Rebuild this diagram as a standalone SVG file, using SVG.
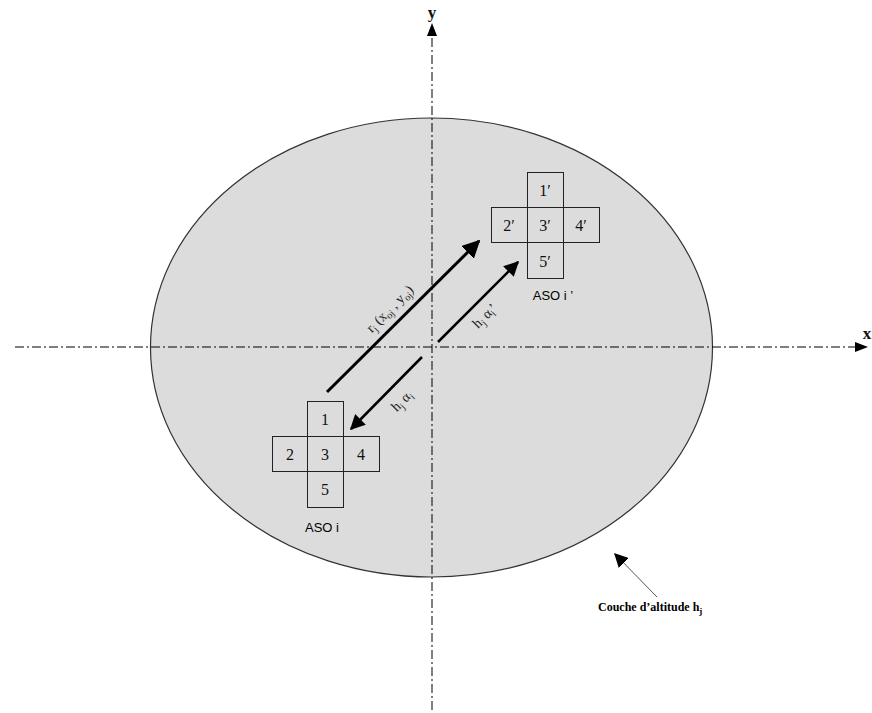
<svg xmlns="http://www.w3.org/2000/svg" width="872" height="713" viewBox="0 0 872 713">
<style>
.axis{stroke:#000;stroke-width:1;fill:none;stroke-dasharray:9,3,2,3}
.box{fill:none;stroke:#222;stroke-width:1}
.num{font-family:"Liberation Serif",serif;font-size:16px;fill:#111;text-anchor:middle}
.aso{font-family:"Liberation Sans",Arial,sans-serif;font-size:13px;fill:#000;text-anchor:middle}
.lbl{font-family:"Liberation Serif",serif;font-size:14px;fill:#222}
.thick{stroke:#000;stroke-width:3;fill:none}
</style>
<defs>
<marker id="ah" viewBox="0 0 10 10" refX="9" refY="5" markerWidth="6" markerHeight="6" markerUnits="strokeWidth" orient="auto">
<path d="M0,0 L10,5 L0,10 z" fill="#000"/>
</marker>
<marker id="ahs" viewBox="0 0 10 10" refX="9" refY="5" markerWidth="14" markerHeight="14" markerUnits="userSpaceOnUse" orient="auto">
<path d="M0,0 L10,5 L0,10 z" fill="#000"/>
</marker>
</defs>
<rect width="872" height="713" fill="#fff"/>
<g id="layer">
<ellipse cx="431.5" cy="347.5" rx="281" ry="229.5" fill="#dcdcdc" stroke="#333" stroke-width="1.2"/>
</g>
<g id="axes">
<line class="axis" x1="432" y1="38" x2="432" y2="713"/>
<path d="M432,23 L437,36 L427,36 z" fill="#000"/>
<text x="432" y="18" class="num" style="font-weight:bold;font-size:17px">y</text>
<line class="axis" x1="15" y1="347" x2="856" y2="347"/>
<path d="M868,347 L855,342 L855,352 z" fill="#000"/>
<text x="867" y="339" class="num" style="font-weight:bold;font-size:17px">x</text>
</g>
<g id="connectors">
<line class="thick" x1="327" y1="392" x2="479" y2="241" marker-end="url(#ah)"/>
<line x1="438" y1="342" x2="518" y2="262" stroke="#000" stroke-width="2.5" marker-end="url(#ah)"/>
<line x1="422" y1="357" x2="351" y2="429" stroke="#000" stroke-width="2.5" marker-end="url(#ah)"/>
<line x1="657" y1="597" x2="615" y2="554" stroke="#555" stroke-width="1" marker-end="url(#ahs)"/>
<text class="lbl" transform="translate(393,312) rotate(-45)" text-anchor="middle">r<tspan font-size="10" dy="3">j</tspan><tspan dy="-3"> (x</tspan><tspan font-size="10" dy="3">oj</tspan><tspan dy="-3"> , y</tspan><tspan font-size="10" dy="3">oj</tspan><tspan dy="-3">)</tspan></text>
<text class="lbl" transform="translate(488,319) rotate(-45)" text-anchor="middle">h<tspan font-size="10" dy="3">j</tspan><tspan dy="-3"> α</tspan><tspan font-size="10" dy="3">i</tspan><tspan dy="-3">’</tspan></text>
<text class="lbl" transform="translate(405,404) rotate(-45)" text-anchor="middle">h<tspan font-size="10" dy="3">j</tspan><tspan dy="-3"> α</tspan><tspan font-size="10" dy="3">i</tspan></text>
</g>
<g id="aso-i">
<rect class="box" x="307.5" y="401.5" width="36" height="35"/>
<rect class="box" x="272.5" y="436.5" width="35" height="35"/>
<rect class="box" x="307.5" y="436.5" width="36" height="35" stroke-width="2"/>
<rect class="box" x="343.5" y="436.5" width="36" height="35"/>
<rect class="box" x="307.5" y="471.5" width="36" height="36"/>
<text class="num" x="325" y="425">1</text>
<text class="num" x="290" y="460">2</text>
<text class="num" x="325" y="460">3</text>
<text class="num" x="361" y="460">4</text>
<text class="num" x="325" y="495">5</text>
<text class="aso" x="322" y="532">ASO i</text>
</g>
<g id="aso-i-prime">
<rect class="box" x="527.5" y="172.5" width="36" height="35"/>
<rect class="box" x="491.5" y="207.5" width="36" height="35"/>
<rect class="box" x="527.5" y="207.5" width="36" height="35" stroke-width="2"/>
<rect class="box" x="563.5" y="207.5" width="36" height="35"/>
<rect class="box" x="527.5" y="242.5" width="36" height="36"/>
<text class="num" x="545" y="196">1′</text>
<text class="num" x="509" y="231">2′</text>
<text class="num" x="545" y="231">3′</text>
<text class="num" x="581" y="231">4′</text>
<text class="num" x="545" y="267">5′</text>
<text class="aso" x="553" y="300">ASO i ’</text>
</g>
<g id="couche-label">
<text x="598" y="611" font-family="'Liberation Serif',serif" font-size="12" font-weight="bold" fill="#000">Couche d’altitude h<tspan font-size="9" dy="3">j</tspan></text>
</g>
</svg>
